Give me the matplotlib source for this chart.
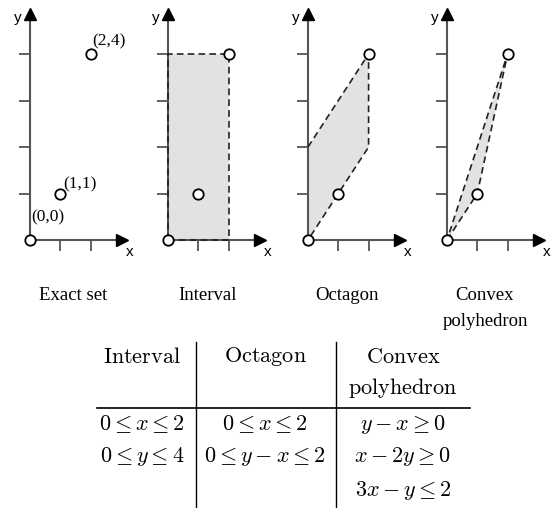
import matplotlib
matplotlib.use("Agg")
import matplotlib.pyplot as plt

plt.rcParams['mathtext.fontset'] = 'cm'

# ---- data ----
panel_titles = ["Exact set", "Interval", "Octagon", "Convex\npolyhedron"]
points_x = [0, 1, 2]
points_y = [0, 1, 4]
point_labels = ["(0,0)", "(1,1)", "(2,4)"]
x_ticks = [1, 2]
y_ticks = [1, 2, 3, 4]
interval_x = [0, 2, 2, 0]
interval_y = [0, 0, 4, 4]
octagon_x = [0, 0, 2, 2]
octagon_y = [0, 2, 4, 2]
hull_x = [0, 1, 2]
hull_y = [0, 1, 4]

table_headers = [["Interval"], ["Octagon"], ["Convex", "polyhedron"]]
table_rows = [
    [r"$0 \leq x \leq 2$", r"$0 \leq y \leq 4$"],
    [r"$0 \leq x \leq 2$", r"$0 \leq y-x \leq 2$"],
    [r"$y-x \geq 0$", r"$x-2y \geq 0$", r"$3x-y \leq 2$"],
]

W, H = 551, 508
fig = plt.figure(figsize=(W / 100, H / 100), dpi=100)

# pixel geometry
sx, sy = 30.3, 46.5
origins = [30, 168, 308, 447]
oy = 240
left_px, right_px = 25, 104
top_px, bot_px = 0, 272

AX_COL = '#555555'
FILL = '#e2e2e2'
DASH = dict(color='#222222', lw=1.2, ls=(0, (4, 2.5)))

def make_panel(ox):
    ax = fig.add_axes([(ox - left_px) / W, (H - bot_px) / H,
                       (left_px + right_px) / W, (bot_px - top_px) / H])
    ax.set_xlim(-left_px / sx, right_px / sx)
    ax.set_ylim(-(bot_px - oy) / sy, (oy - top_px) / sy)
    ax.patch.set_alpha(0)
    for s in ['top', 'right']:
        ax.spines[s].set_visible(False)
    ax.spines['left'].set_position(('data', 0))
    ax.spines['bottom'].set_position(('data', 0))
    ytop = (oy - 14) / sy
    xend = 92 / sx
    ax.spines['left'].set_bounds(0, ytop)
    ax.spines['bottom'].set_bounds(0, xend)
    for s in ['left', 'bottom']:
        ax.spines[s].set_color(AX_COL)
        ax.spines[s].set_linewidth(1.5)
    ax.set_xticks(x_ticks)
    ax.set_yticks(y_ticks)
    ax.set_xticklabels([])
    ax.set_yticklabels([])
    ax.tick_params(direction='out', length=8, width=1.3, color=AX_COL)
    ax.plot([0], [ytop], marker='^', color='black', ms=9, clip_on=False, zorder=5)
    ax.plot([xend], [0], marker='>', color='black', ms=9, clip_on=False, zorder=5)
    ax.text(-12 / sx, ytop - 4 / sy, "y", fontsize=11, family='Liberation Sans',
            ha='center', va='center')
    ax.text(xend + 8 / sx, -12 / sy, "x", fontsize=11, family='Liberation Sans',
            ha='center', va='center')
    return ax

def circles(ax, xs, ys):
    ax.plot(xs, ys, ls='none', marker='o', ms=7.5, mfc='white', mec='black',
            mew=1.3, zorder=6, clip_on=False)

axes = [make_panel(ox) for ox in origins]

# Panel 1: exact set
ax = axes[0]
circles(ax, points_x, points_y)
offs = [(0.6, 0.48), (0.65, 0.2), (0.6, 0.28)]
for x, y, lab, (dx, dy) in zip(points_x, points_y, point_labels, offs):
    ax.text(x + dx, y + dy, lab, fontsize=12.5, family='Liberation Serif',
            ha='center', va='center')

# Panel 2: interval
ax = axes[1]
ax.fill(interval_x, interval_y, color=FILL, zorder=1, lw=0)
ax.plot(interval_x + [interval_x[0]], interval_y + [interval_y[0]], zorder=3, **DASH)
circles(ax, points_x, points_y)

# Panel 3: octagon
ax = axes[2]
ax.fill(octagon_x, octagon_y, color=FILL, zorder=1, lw=0)
ax.plot(octagon_x[1:] + [octagon_x[0]], octagon_y[1:] + [octagon_y[0]], zorder=3, **DASH)
circles(ax, points_x, points_y)

# Panel 4: convex polyhedron
ax = axes[3]
ax.fill(hull_x, hull_y, color=FILL, zorder=1, lw=0)
ax.plot(hull_x + [hull_x[0]], hull_y + [hull_y[0]], zorder=3, **DASH)
circles(ax, points_x, points_y)

# Panel titles
title_x = [73, 208, 347, 485]
for tx, t in zip(title_x, panel_titles):
    for k, ln in enumerate(t.split('\n')):
        fig.text(tx / W, 1 - (296 + 26 * k) / H, ln, fontsize=13.5,
                 family='Liberation Serif', ha='center', va='center')

# Table
tax = fig.add_axes([0, 0, 1, 1])
tax.set_xlim(0, W)
tax.set_ylim(H, 0)
tax.axis('off')
tax.patch.set_alpha(0)
col_x = [142, 265, 403]
for cx, hdr in zip(col_x, table_headers):
    for k, h in enumerate(hdr):
        tax.text(cx, 357 + 31 * k, r"$\mathrm{" + h + "}$", fontsize=16,
                 ha='center', va='center')
for cx, rows in zip(col_x, table_rows):
    for k, r in enumerate(rows):
        tax.text(cx, 424 + 33 * k, r, fontsize=16, ha='center', va='center')
tax.plot([97, 470], [408, 408], color='black', lw=1.2)
for vx in [196, 336]:
    tax.plot([vx, vx], [342, 508], color='black', lw=1.0)

fig.savefig("out.png", dpi=100)
